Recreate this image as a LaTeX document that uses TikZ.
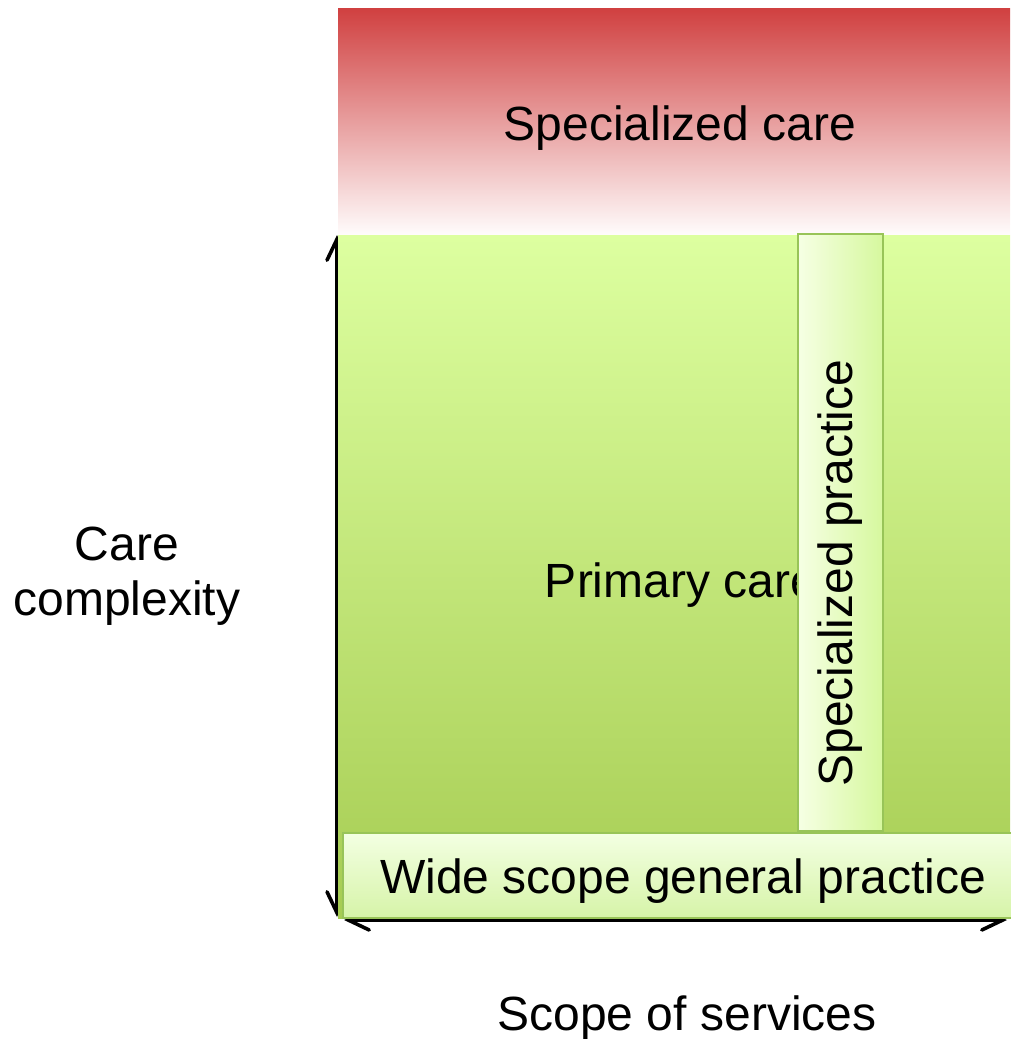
\documentclass[tikz,border=0pt]{standalone}
\usepackage{fontspec}
\setmainfont{Liberation Sans}
\usetikzlibrary{arrows.meta}
\definecolor{redtop}{RGB}{208,64,64}
\definecolor{redbot}{RGB}{255,252,252}
\definecolor{greentop}{RGB}{221,255,160}
\definecolor{greenbot}{RGB}{166,204,82}
\definecolor{barleft}{RGB}{246,255,228}
\definecolor{barright}{RGB}{214,248,158}
\definecolor{bartop}{RGB}{243,255,226}
\definecolor{barbot}{RGB}{214,244,168}
\definecolor{barborder}{RGB}{152,196,88}
\begin{document}
\begin{tikzpicture}[x=1pt,y=-1pt,
  lbl/.style={font=\fontsize{48}{56}\selectfont, inner sep=0pt, text=black},
  axisarrow/.style={line width=3.6pt, line cap=round,
    {Straight Barb[length=21pt,width=20pt,line cap=round]}-{Straight Barb[length=21pt,width=20pt,line cap=round]}},
  barbox/.style={draw=barborder, line width=2pt}]
\useasboundingbox (0,0) rectangle (1010,1039);
% axes (behind the areas)
\coordinate (ybot) at (337,917);
\coordinate (ytop) at (337,235);
\coordinate (xleft) at (344,920);
\coordinate (xright) at (1007,920);
\draw[axisarrow] (ybot) -- (ytop);
\draw[axisarrow] (xleft) -- (xright);
% specialized care area
\fill[top color=redtop, bottom color=redbot] (338,8) rectangle (1010,235);
\node[lbl, anchor=base] (spcare) at (680,140) {Specialized care};
% primary care area
\fill[top color=greentop, bottom color=greenbot] (338,235) rectangle (1010,918);
\node[lbl, anchor=base] (prim) at (681,597) {Primary care};
% specialized practice bar
\draw[barbox, left color=barleft, right color=barright] (798,234) rectangle (883,831);
\node[lbl, rotate=90] (sppr) at (840,573) {Specialized practice};
% wide scope bar
\draw[barbox, top color=bartop, bottom color=barbot] (343,833) rectangle (1012,918);
\node[lbl, anchor=base] (wide) at (683,893) {Wide scope general practice};
% axis labels
\node[lbl, anchor=base] (care1) at (127,560) {Care};
\node[lbl, anchor=base] (care2) at (127,615) {complexity};
\node[lbl, anchor=base] (scope) at (687,1030) {Scope of services};
\end{tikzpicture}
\end{document}
